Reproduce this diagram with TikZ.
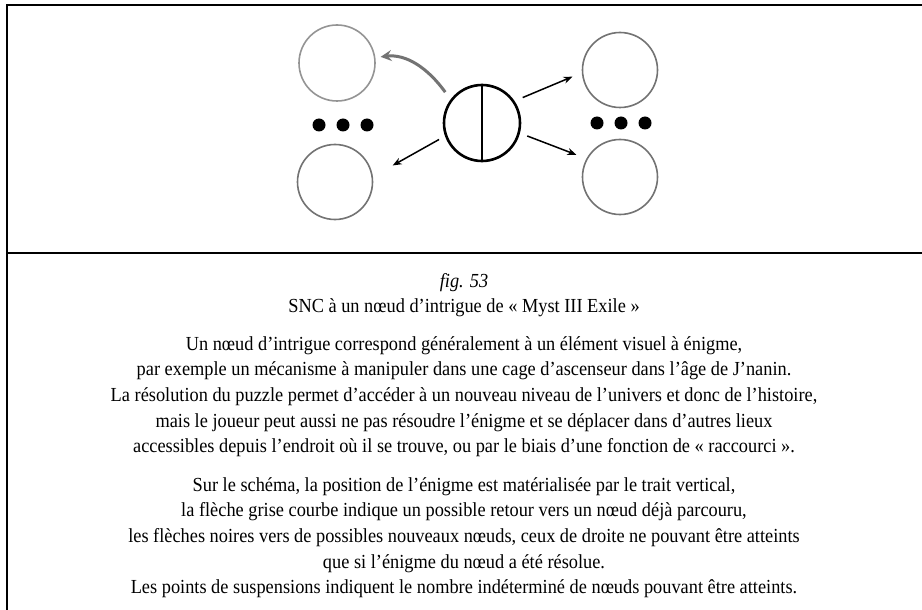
\documentclass[tikz,border=0pt]{standalone}
\usepackage{fontspec}
\setmainfont{Liberation Serif}[FakeStretch=0.92]
\usetikzlibrary{calc,arrows.meta}
\begin{document}
\begin{tikzpicture}[x=1bp,y=1bp,
  frameline/.style={line width=1.8bp,black},
  graynode/.style={circle,draw=black!55,line width=1.6bp,minimum size=75bp,inner sep=0pt},
  lightnode/.style={circle,draw=black!42,line width=1.6bp,minimum size=76bp,inner sep=0pt},
  centernode/.style={circle,draw=black,line width=2.6bp,minimum size=76bp,inner sep=0pt},
  dotnode/.style={circle,fill=black,minimum size=13bp,inner sep=0pt},
  blackarrow/.style={line width=1.5bp,black,-{Stealth[length=9bp,width=7bp]}},
  grayarrow/.style={line width=3bp,black!55,-{Stealth[length=11bp,width=11bp,inset=4bp]}},
  txt/.style={anchor=base,font=\fontsize{20}{23}\selectfont,inner sep=0pt}]
\useasboundingbox (0,0) rectangle (922,-610);
\fill[white] (0,0) rectangle (922,-610);
% frame
\coordinate (tl) at (7,-5);
\coordinate (tr) at (922,-5);
\coordinate (bl) at (7,-610);
\coordinate (sl) at (7,-253);
\coordinate (sr) at (922,-253);
\draw[frameline] (tr) -- (tl) -- (bl);
\draw[frameline] (sl) -- (sr);
% nodes
\node[centernode] (c) at (482,-123) {};
\draw[line width=2.4bp] (c.north) -- (c.south);
\node[lightnode] (lt) at (337,-63) {};
\node[graynode] (lb) at (335,-182) {};
\node[graynode] (rt) at (620,-70) {};
\node[graynode] (rb) at (620,-177) {};
\node[dotnode] (ld1) at (319,-125) {};
\node[dotnode] (ld2) at (343,-125) {};
\node[dotnode] (ld3) at (367,-125) {};
\node[dotnode] (rd1) at (597,-123) {};
\node[dotnode] (rd2) at (621,-123) {};
\node[dotnode] (rd3) at (645,-123) {};
% arrows
\draw[grayarrow] ($(c)+(140:48)$) .. controls ($(c)+(140:48)+(-18,25)$) and ($(lt)+(8:44)+(25,3)$) .. ($(lt)+(8:44)$);
\draw[blackarrow] ($(c)+(32:48)$) -- ($(rt)+(188:48)$);
\draw[blackarrow] ($(c)+(-16:47)$) -- ($(rb)+(153:49)$);
\draw[blackarrow] ($(c)+(201:46)$) -- ($(lb)+(16:60)$);
% text
\node[txt,font=\fontsize{20}{23}\selectfont\itshape] (t0) at (464,-287) {fig. 53};
\node[txt] (t1) at (464,-312) {SNC à un nœud d’intrigue de « Myst III Exile »};
\node[txt] (t2) at (464,-350) {Un nœud d’intrigue correspond généralement à un élément visuel à énigme,};
\node[txt] (t3) at (464,-375) {par exemple un mécanisme à manipuler dans une cage d’ascenseur dans l’âge de J’nanin.};
\node[txt] (t4) at (464,-401) {La résolution du puzzle permet d’accéder à un nouveau niveau de l’univers et donc de l’histoire,};
\node[txt] (t5) at (464,-427) {mais le joueur peut aussi ne pas résoudre l’énigme et se déplacer dans d’autres lieux};
\node[txt] (t6) at (464,-452) {accessibles depuis l’endroit où il se trouve, ou par le biais d’une fonction de « raccourci ».};
\node[txt] (t7) at (464,-491) {Sur le schéma, la position de l’énigme est matérialisée par le trait vertical,};
\node[txt] (t8) at (464,-516) {la flèche grise courbe indique un possible retour vers un nœud déjà parcouru,};
\node[txt] (t9) at (464,-542) {les flèches noires vers de possibles nouveaux nœuds, ceux de droite ne pouvant être atteints};
\node[txt] (t10) at (464,-568) {que si l’énigme du nœud a été résolue.};
\node[txt] (t11) at (464,-593) {Les points de suspensions indiquent le nombre indéterminé de nœuds pouvant être atteints.};
\end{tikzpicture}
\end{document}
